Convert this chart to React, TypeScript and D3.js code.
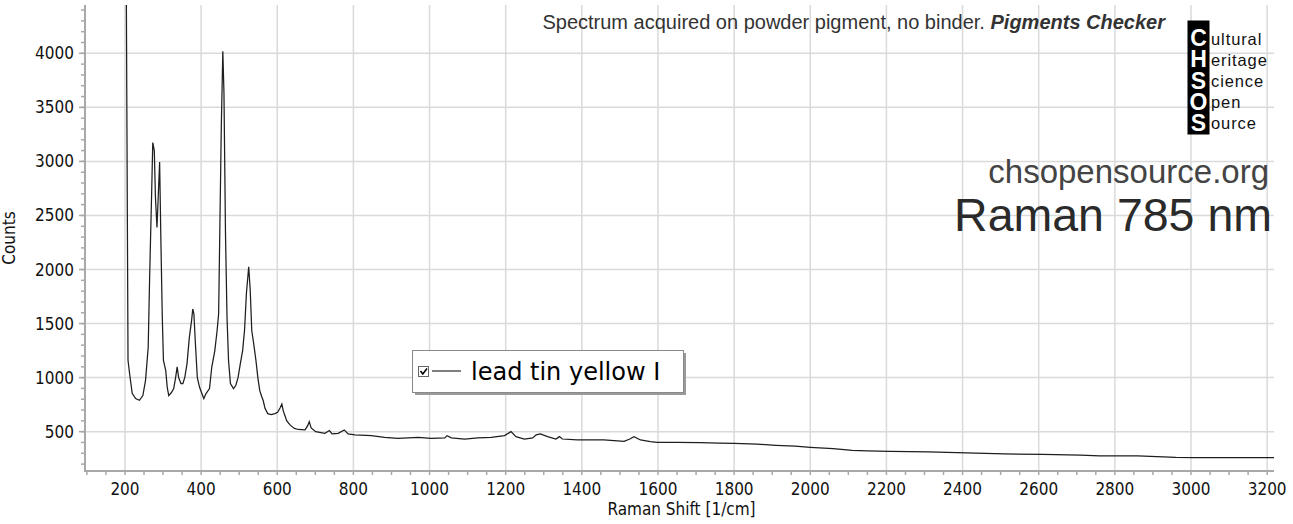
import React from 'react';
import * as d3 from 'd3';

const wavenumbers = [
  201, 208, 212, 219, 228, 238, 247, 254, 261, 265, 270, 273, 277, 280, 284, 287, 291, 294, 298,
  301, 307, 311, 315, 322, 328, 333, 337, 341, 347, 352, 357, 363, 369, 375, 378, 381, 385, 390,
  396, 401, 407, 413, 422, 428, 436, 442, 446, 449, 453, 457, 460, 464, 468, 472, 477, 485, 491,
  497, 503, 509, 514, 519, 525, 529, 533, 538, 544, 549, 554, 559, 563, 568, 575, 584, 594, 601,
  608, 612, 616, 620, 625, 634, 645, 655, 673, 680, 684, 689, 701, 725, 737, 744, 760, 776, 786,
  804, 847, 882, 917, 970, 1004, 1040, 1046, 1057, 1092, 1127, 1162, 1197, 1214, 1227, 1249, 1271,
  1280, 1291, 1310, 1332, 1341, 1349, 1388, 1458, 1511, 1526, 1537, 1554, 1580, 1598, 1650, 1710,
  1760, 1800, 1860, 1910, 1960, 2000, 2060, 2110, 2150, 2210, 2310, 2410, 2510, 2610, 2710, 2760,
  2810, 2860, 2910, 2960, 3010, 3110, 3218,
];
const counts = [
  6500, 1160, 1040, 855, 806, 790, 834, 975, 1280, 1965, 2700, 3175, 3100, 2670, 2390, 2640, 2995, 2335, 1560,
  1160, 1066, 910, 834, 862, 898, 1000, 1100, 1000, 945, 945, 1000, 1130, 1370, 1530, 1635, 1590, 1315, 1000,
  910, 862, 806, 852, 898, 1098, 1250, 1436, 1590, 2335, 3318, 4020, 3633, 2335, 1560, 1158, 945, 898, 927,
  1000, 1129, 1250, 1436, 1780, 2025, 1807, 1436, 1316, 1158, 1000, 880, 825, 788, 714, 667, 658, 667, 680,
  723, 755, 690, 650, 600, 560, 530, 520, 516, 556, 593, 534, 500, 485, 510, 479, 485, 516, 479,
  470, 463, 448, 438, 448, 438, 442, 463, 442, 432, 442, 448, 463, 500, 454, 432, 442,
  470, 479, 454, 432, 454, 432, 423, 423, 410, 432, 454, 423, 408, 401, 400, 398,
  395, 392, 385, 374, 365, 355, 344, 326, 322, 318, 312, 304, 295, 289, 283, 277,
  276, 275, 268, 262, 260, 259, 259,
];

const xTicks = [200, 400, 600, 800, 1000, 1200, 1400, 1600, 1800, 2000, 2200, 2400, 2600, 2800, 3000, 3200];
const yTicks = [500, 1000, 1500, 2000, 2500, 3000, 3500, 4000];
const logoLetters = ['C', 'H', 'S', 'O', 'S'];
const logoWords = ['ultural', 'eritage', 'cience', 'pen', 'ource'];
const seriesName = 'lead tin yellow I';
const xLabel = 'Raman Shift [1/cm]';
const yLabel = 'Counts';

export default function App() {
  const W = 1293, H = 524;
  const L = 85, R = 1274, T = 5, B = 471;
  const x = d3.scaleLinear().domain([95, 3218]).range([L, R]);
  const y = d3.scaleLinear().domain([136, 4447]).range([B, T]);
  const data: [number, number][] = wavenumbers.map((w, i) => [w, counts[i]]);
  const line = d3.line<[number, number]>().x(d => x(d[0])).y(d => y(d[1]));
  const minorX = d3.range(100, 3201, 50);
  const minorY = d3.range(200, 4401, 100);
  const tickFont = '"DejaVu Sans Condensed", "DejaVu Sans", sans-serif';
  const arial = '"Liberation Sans", Arial, sans-serif';
  const logoBaselines = [45, 66, 87, 108, 129];

  return (
    <svg width={W} height={H} style={{ position: 'absolute', left: 0, top: 0, background: '#fff' }}>
      <defs>
        <clipPath id="plotclip">
          <rect x={L} y={T} width={R - L} height={B - T} />
        </clipPath>
      </defs>
      <rect x={0} y={0} width={W} height={H} fill="#fff" />
      {/* grid */}
      {xTicks.map(t => (
        <line key={'gx' + t} x1={x(t)} x2={x(t)} y1={T} y2={B} stroke="#dadada" strokeWidth={1.5} />
      ))}
      {yTicks.map(t => (
        <line key={'gy' + t} x1={L} x2={R} y1={y(t)} y2={y(t)} stroke="#dadada" strokeWidth={1.5} />
      ))}
      {/* header texts */}
      <text x={1165} y={29} textAnchor="end" fontFamily={arial} fontSize={20} fill="#333">
        Spectrum acquired on powder pigment, no binder.{' '}
        <tspan fontWeight="bold" fontStyle="italic">Pigments Checker</tspan>
      </text>
      <text x={1269} y={183} textAnchor="end" fontFamily={arial} fontSize={33} fill="#444">chsopensource.org</text>
      <text x={1272} y={231} textAnchor="end" fontFamily={arial} fontSize={46.5} fill="#2a2a2a">Raman 785 nm</text>
      {/* logo */}
      <rect x={1187.5} y={20.5} width={22} height={114} fill="#000" />
      <text x={1198.5} y={25} fontFamily={arial} fontWeight="bold" fontSize={23} fill="#fff" letterSpacing={-4.7}
        style={{ writingMode: 'vertical-rl', textOrientation: 'upright' } as React.CSSProperties}>
        {logoLetters.join('')}
      </text>
      <text fontFamily={arial} fontSize={16.5} letterSpacing={0.9} fill="#111">
        {logoWords.map((w, i) => (
          <tspan key={'lw' + i} x={1211} y={logoBaselines[i]}>{w}</tspan>
        ))}
      </text>
      {/* series */}
      <path d={line(data) || ''} fill="none" stroke="#1e1e1e" strokeWidth={1.25} clipPath="url(#plotclip)" />
      {/* axes */}
      <line x1={L} x2={R} y1={B} y2={B} stroke="#a8a8a8" strokeWidth={2} />
      <line x1={L} x2={L} y1={T} y2={B + 1} stroke="#a8a8a8" strokeWidth={2} />
      {minorX.map(t => (
        <line key={'mx' + t} x1={x(t)} x2={x(t)} y1={B} y2={B + 4} stroke="#a8a8a8" strokeWidth={1.5} />
      ))}
      {minorY.map(t => (
        <line key={'my' + t} x1={L - 4} x2={L} y1={y(t)} y2={y(t)} stroke="#a8a8a8" strokeWidth={1.5} />
      ))}
      {yTicks.map(t => (
        <line key={'My' + t} x1={L - 6} x2={L} y1={y(t)} y2={y(t)} stroke="#a8a8a8" strokeWidth={1.5} />
      ))}
      {xTicks.map(t => (
        <text key={'tx' + t} x={x(t)} y={495} textAnchor="middle" fontFamily={tickFont} fontStretch="condensed" fontSize={17} fill="#111">{t}</text>
      ))}
      {yTicks.map(t => (
        <text key={'ty' + t} x={74} y={y(t) + 6} textAnchor="end" fontFamily={tickFont} fontStretch="condensed" fontSize={17} fill="#111">{t}</text>
      ))}
      <text x={(L + R) / 2 + 2} y={515} textAnchor="middle" fontFamily={tickFont} fontStretch="condensed" fontSize={17} fill="#111">{xLabel}</text>
      <text transform={`translate(15, ${(T + B) / 2}) rotate(-90)`} textAnchor="middle" fontFamily={tickFont} fontStretch="condensed" fontSize={17} fill="#111">{yLabel}</text>
      {/* legend */}
      <rect x={415} y={353} width={271} height={42} fill="#9a9a9a" />
      <rect x={412.5} y={350.5} width={271} height={42} fill="#fff" stroke="#8a8a8a" strokeWidth={1} />
      <rect x={418.5} y={366.5} width={10} height={10} fill="#fff" stroke="#666" strokeWidth={1} />
      <path d="M420.5,371 L422.8,374 L427,368.5" fill="none" stroke="#000" strokeWidth={1.6} />
      <line x1={432} x2={461} y1={371} y2={371} stroke="#555" strokeWidth={1.5} />
      <text x={471} y={380} fontFamily='"DejaVu Sans", Verdana, sans-serif' fontSize={24} fill="#000">{seriesName}</text>
    </svg>
  );
}
